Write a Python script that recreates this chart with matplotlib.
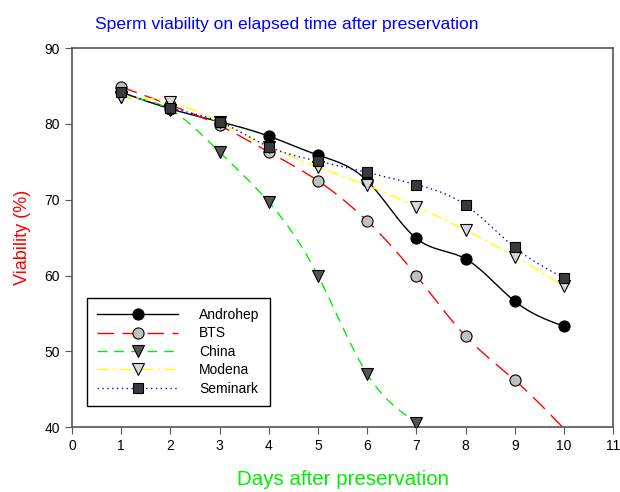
import numpy as np
import matplotlib
matplotlib.use("Agg")
import matplotlib.pyplot as plt

plt.rcParams["font.family"] = ["Liberation Sans", "DejaVu Sans"]

days = [1, 2, 3, 4, 5, 6, 7, 8, 9, 10]
androhep = [84.2, 82.0, 80.3, 78.4, 75.9, 72.5, 64.9, 62.2, 56.6, 53.3]
bts = [84.9, 82.5, 79.8, 76.3, 72.5, 67.2, 60.0, 52.0, 46.2, 39.8]
china_days = [1, 2, 3, 4, 5, 6, 7]
china = [83.6, 81.9, 76.3, 69.7, 60.0, 47.0, 40.6]
modena = [83.5, 82.9, 80.2, 77.0, 74.3, 71.9, 69.1, 66.0, 62.5, 58.6]
seminark = [84.2, 82.1, 80.3, 77.0, 75.1, 73.6, 72.0, 69.3, 63.7, 59.7]

Y_MIN, Y_MAX = 40, 90


def spline(x, y, n=300):
    """Natural cubic spline through the points, like SigmaPlot's spline curve."""
    x = np.asarray(x, float)
    y = np.asarray(y, float)
    k = len(x)
    h = np.diff(x)
    A = np.zeros((k, k))
    r = np.zeros(k)
    A[0, 0] = A[-1, -1] = 1
    for i in range(1, k - 1):
        A[i, i - 1] = h[i - 1]
        A[i, i] = 2 * (h[i - 1] + h[i])
        A[i, i + 1] = h[i]
        r[i] = 6 * ((y[i + 1] - y[i]) / h[i] - (y[i] - y[i - 1]) / h[i - 1])
    m = np.linalg.solve(A, r)
    xs = np.linspace(x[0], x[-1], n)
    idx = np.clip(np.searchsorted(x, xs) - 1, 0, k - 2)
    x0, x1 = x[idx], x[idx + 1]
    hh = x1 - x0
    a = (x1 - xs) / hh
    b = (xs - x0) / hh
    ys = (a * y[idx] + b * y[idx + 1]
          + ((a ** 3 - a) * m[idx] + (b ** 3 - b) * m[idx + 1]) * hh ** 2 / 6)
    return xs, ys


fig = plt.figure(figsize=(6.2, 4.92), dpi=100)
ax = fig.add_axes([0.116, 0.132, 0.873, 0.770])

series = [
    ("Androhep", days, androhep, "black", "-", "o", "black", 8),
    ("BTS", days, bts, "red", (0, (12, 6)), "o", "#c0c0c0", 8),
    ("China", china_days, china, "#00ee00", (0, (7, 5)), "v", "#555555", 8),
    ("Modena", days, modena, "#ffff00", (0, (8, 3, 2, 3)), "v", "#d8d8d8", 8),
    ("Seminark", days, seminark, "blue", (0, (1, 2.5)), "s", "#3a3a3a", 7),
]

for name, x, y, col, ls, mk, fc, ms in series:
    xs, ys = spline(x, y)
    ax.plot(xs, ys, color=col, linestyle=ls, linewidth=1.0, zorder=2)
    # points outside the y range are not drawn (SigmaPlot style)
    keep = [i for i, v in enumerate(y) if Y_MIN <= v <= Y_MAX]
    ax.plot(x, y, linestyle="none", marker=mk, markersize=ms, markevery=keep,
            markerfacecolor=fc, markeredgecolor="black", markeredgewidth=0.8,
            zorder=3)
    ax.plot([], [], color=col, linestyle=ls, linewidth=1.0, marker=mk,
            markersize=ms, markerfacecolor=fc, markeredgecolor="black",
            markeredgewidth=0.8, label=name)

ax.set_xlim(0, 11)
ax.set_ylim(Y_MIN, Y_MAX)
ax.set_xticks(range(0, 12))
ax.set_yticks(range(40, 91, 10))
ax.tick_params(direction="out", length=5, labelsize=10, color="#555555")
for s in ax.spines.values():
    s.set_color("#555555")
    s.set_linewidth(1.2)

ax.set_xlabel("Days after preservation", color="#00ee00", fontsize=14.8,
              labelpad=12)
ax.set_ylabel("Viability (%)", color="red", fontsize=13, labelpad=10)
fig.text(287 / 620, 1 - 29 / 492,
         "Sperm viability on elapsed time after preservation",
         color="blue", fontsize=12.6, ha="center", va="baseline")

leg = ax.legend(loc="lower left", bbox_to_anchor=(0.028, 0.055),
                fontsize=10, handlelength=5.8, fancybox=False,
                framealpha=1, edgecolor="black", borderpad=0.75,
                labelspacing=0.32, handletextpad=1.5, borderaxespad=0)
leg.get_frame().set_linewidth(1.0)

fig.savefig("out.png", dpi=100)
